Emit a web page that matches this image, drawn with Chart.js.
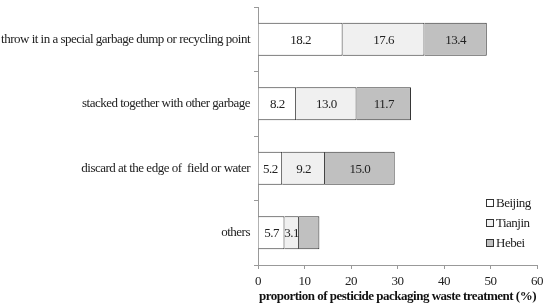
<!DOCTYPE html>
<html>
<head>
<meta charset="utf-8">
<script src="https://cdn.jsdelivr.net/npm/chart.js@4.4.1/dist/chart.umd.min.js"></script>
<style>
  html, body { margin: 0; padding: 0; background: #fff; }
  #wrap { width: 550px; height: 307px; position: relative; }
</style>
</head>
<body>
<div id="wrap"><canvas id="wasteChart"></canvas></div>
<script>
// categories (top to bottom) and the three regions
const categories = [
    'throw it in a special garbage dump or recycling point',
    'stacked together with other garbage',
    'discard at the edge of  field or water',
    'others'
];
const beijing = [18.2, 8.2, 5.2, 5.7];
const tianjin = [17.6, 13.0, 9.2, 3.1];
const hebei = [13.4, 11.7, 15.0, 4.4];
const hebeiLabelShown = [true, true, true, false]; // value not printed on the 'others' bar
const xTicks = [0, 10, 20, 30, 40, 50, 60];

const serif = '"Liberation Serif", "DejaVu Serif", serif';

// the original uses a tightly set Times face
const tightText = {
    id: 'tightText',
    beforeDraw(chart) { chart.ctx.letterSpacing = '-0.5px'; }
};

// value labels centred on each segment
const valueLabels = {
    id: 'valueLabels',
    afterDatasetsDraw(chart) {
        const ctx = chart.ctx;
        ctx.save();
        ctx.font = '13px ' + serif;
        ctx.fillStyle = '#222';
        ctx.textAlign = 'center';
        ctx.textBaseline = 'middle';
        chart.data.datasets.forEach((ds, di) => {
            chart.getDatasetMeta(di).data.forEach((bar, i) => {
                if (ds.label === 'Hebei' && !hebeiLabelShown[i]) return;
                const p = bar.getCenterPoint();
                ctx.fillText(ds.data[i].toFixed(1), p.x, p.y + 1);
            });
        });
        ctx.restore();
    }
};

// small legend inside the plot, lower right
const boxLegend = {
    id: 'boxLegend',
    afterDraw(chart) {
        const ctx = chart.ctx;
        ctx.save();
        ctx.font = '13px ' + serif;
        ctx.textBaseline = 'middle';
        chart.data.datasets.forEach((ds, i) => {
            const y = 203 + i * 20;
            ctx.fillStyle = ds.backgroundColor;
            ctx.fillRect(486, y - 4, 8, 8);
            ctx.strokeStyle = '#333';
            ctx.lineWidth = 1;
            ctx.strokeRect(486.5, y - 3.5, 7, 7);
            ctx.fillStyle = '#222';
            ctx.fillText(ds.label, 496, y + 1);
        });
        ctx.restore();
    }
};

const ctx = document.getElementById('wasteChart').getContext('2d');
new Chart(ctx, {
    type: 'bar',
    data: {
        labels: categories,
        datasets: [{
            label: 'Beijing',
            data: beijing,
            backgroundColor: '#ffffff',
            borderColor: '#333',
            borderWidth: 1
        }, {
            label: 'Tianjin',
            data: tianjin,
            backgroundColor: '#f0f0f0',
            borderColor: '#333',
            borderWidth: 1
        }, {
            label: 'Hebei',
            data: hebei,
            backgroundColor: '#c0c0c0',
            borderColor: '#333',
            borderWidth: 1
        }]
    },
    options: {
        indexAxis: 'y',
        responsive: true,
        maintainAspectRatio: false,
        animation: false,
        categoryPercentage: 1,
        barPercentage: 0.51,
        layout: { padding: { left: 0, right: 13, top: 7, bottom: 0 } },
        plugins: {
            legend: { display: false },
            tooltip: { enabled: false }
        },
        scales: {
            x: {
                stacked: true,
                min: 0,
                max: 60,
                afterBuildTicks: axis => { axis.ticks = xTicks.map(v => ({ value: v })); },
                afterFit: axis => { axis.height = 42; },
                border: { color: '#999', width: 1 },
                grid: { drawOnChartArea: false, drawTicks: true, tickLength: 4, color: '#999' },
                ticks: { color: '#222', font: { family: serif, size: 13 }, padding: 5 },
                title: {
                    display: true,
                    text: 'proportion of pesticide packaging waste treatment (%)',
                    color: '#111',
                    font: { family: serif, size: 13, weight: 'bold' },
                    padding: { top: 0, bottom: 3 }
                }
            },
            y: {
                stacked: true,
                afterFit: axis => {
                    axis.width = 258;
                    axis.paddingTop = 0;
                    axis.paddingBottom = 0;
                },
                border: { color: '#999', width: 1 },
                grid: { drawOnChartArea: false, drawTicks: true, tickLength: 4, color: '#999', offset: true },
                ticks: { color: '#222', font: { family: serif, size: 13 }, padding: 4 }
            }
        }
    },
    plugins: [tightText, valueLabels, boxLegend]
});
</script>
</body>
</html>
